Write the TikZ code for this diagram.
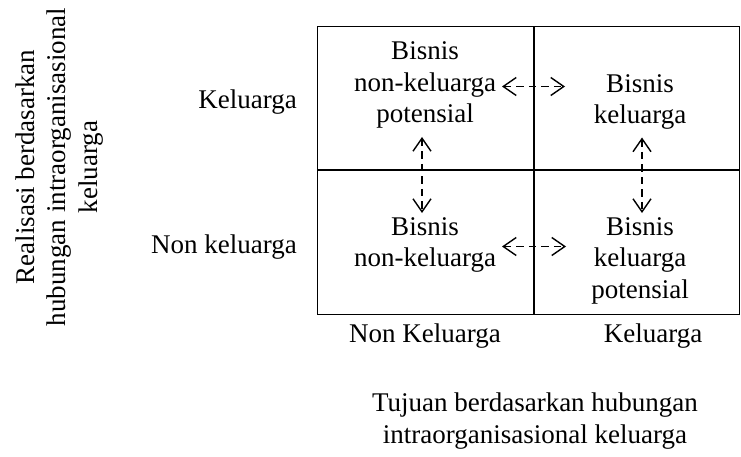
\documentclass[tikz,border=0pt]{standalone}
\usepackage{fontspec}
\setmainfont{Liberation Serif}
\usetikzlibrary{arrows.meta}
\begin{document}
\begin{tikzpicture}[x=1pt,y=-1pt,
  txt/.style={font=\fontsize{27}{31.5}\selectfont, inner sep=0pt, align=center},
  gridline/.style={line width=1.5pt},
  barb/.tip={Straight Barb[length=13pt,width=18pt,line width=1.4pt]},
  dasharrow/.style={line width=1.4pt, dash pattern=on 7.5pt off 5pt, barb-barb}]
\useasboundingbox (0,0) rectangle (741,457);
% grid
\coordinate (tl) at (317.5,26.5);
\coordinate (br) at (739.5,314.5);
\coordinate (mt) at (534,26.5);
\coordinate (mb) at (534,314.5);
\coordinate (ml) at (317.5,170);
\coordinate (mr) at (739.5,170);
\draw[gridline] (tl) rectangle (br);
\draw[gridline] (mt) -- (mb);
\draw[gridline] (ml) -- (mr);
% cell texts
\node[txt] (nkp) at (425,85.4) {Bisnis\\non-keluarga\\potensial};
\node[txt] (bk) at (640,102) {Bisnis\\keluarga};
\node[txt] (bnk) at (425,245) {Bisnis\\non-keluarga};
\node[txt] (bkp) at (640,260.5) {Bisnis\\keluarga\\potensial};
% arrows
\coordinate (a1) at (502,86.5);
\coordinate (a2) at (565,86.5);
\coordinate (b1) at (502,246.5);
\coordinate (b2) at (566,246.5);
\coordinate (c1) at (422,137);
\coordinate (c2) at (422,213);
\coordinate (d1) at (642,137.5);
\coordinate (d2) at (642,213);
\draw[dasharrow] (a1) -- (a2);
\draw[dasharrow] (b1) -- (b2);
\draw[dasharrow] (c1) -- (c2);
\draw[dasharrow] (d1) -- (d2);
% row labels
\node[txt, anchor=base east] (rk) at (297,109) {Keluarga};
\node[txt, anchor=base east] (rnk) at (297,253) {Non keluarga};
% column labels
\node[txt, anchor=base] (cnk) at (425,342) {Non Keluarga};
\node[txt, anchor=base] (ck) at (653,342) {Keluarga};
% axis titles
\node[txt, rotate=90] (ytitle) at (59.5,167) {Realisasi berdasarkan\\hubungan intraorganisasional\\keluarga};
\node[txt] (xtitle) at (535,421) {Tujuan berdasarkan hubungan\\intraorganisasional keluarga};
\end{tikzpicture}
\end{document}
